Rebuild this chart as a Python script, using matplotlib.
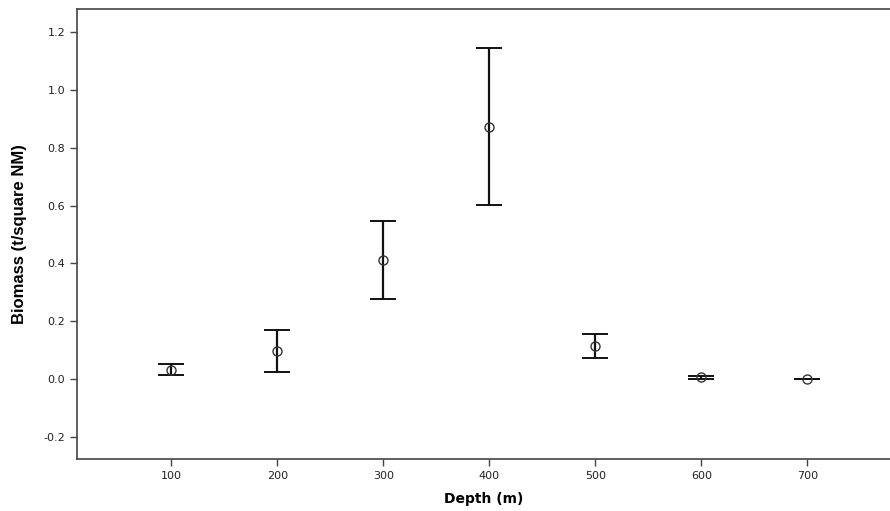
import matplotlib
matplotlib.use('Agg')
import matplotlib.pyplot as plt

depth = [100, 200, 300, 400, 500, 600, 700]
mean_biomass = [0.030, 0.097, 0.410, 0.870, 0.113, 0.005, 0.000]
ci_low = [0.012, 0.024, 0.276, 0.601, 0.072, 0.001, -0.001]
ci_high = [0.050, 0.170, 0.546, 1.145, 0.157, 0.010, 0.001]

yerr = [[m - lo for m, lo in zip(mean_biomass, ci_low)],
        [hi - m for m, hi in zip(mean_biomass, ci_high)]]

fig = plt.figure(figsize=(8.9, 5.11), dpi=100)
ax = fig.add_axes([0.0865, 0.1018, 0.9135, 0.8806])

ax.errorbar(depth, mean_biomass, yerr=yerr, fmt='none', ecolor='#111111',
            elinewidth=1.6, capsize=9.5, capthick=1.4)
ax.plot(depth, mean_biomass, 'o', mfc='none', mec='#333333', ms=6.5, mew=1.0)

ax.set_xlim(11, 778)
ax.set_ylim(-0.277, 1.28)
ax.set_xticks(depth)
ax.set_yticks([-0.2, 0.0, 0.2, 0.4, 0.6, 0.8, 1.0, 1.2])
ax.set_yticklabels(['-0.2', '0.0', '0.2', '0.4', '0.6', '0.8', '1.0', '1.2'])

for s in ['left', 'bottom', 'top']:
    ax.spines[s].set_color('#444444')
    ax.spines[s].set_linewidth(1.2)
ax.spines['right'].set_visible(False)
ax.tick_params(direction='out', length=5, width=1, color='#444444',
               labelsize=8, labelcolor='#222222')

ax.set_xlabel('Depth (m)', fontsize=10, fontweight='bold', labelpad=8)
ax.set_ylabel('Biomass (t/square NM)', fontsize=12, fontweight='bold',
              family=['Liberation Sans Narrow', 'Liberation Sans', 'DejaVu Sans'],
              labelpad=12)

fig.savefig('out.png', dpi=100)
